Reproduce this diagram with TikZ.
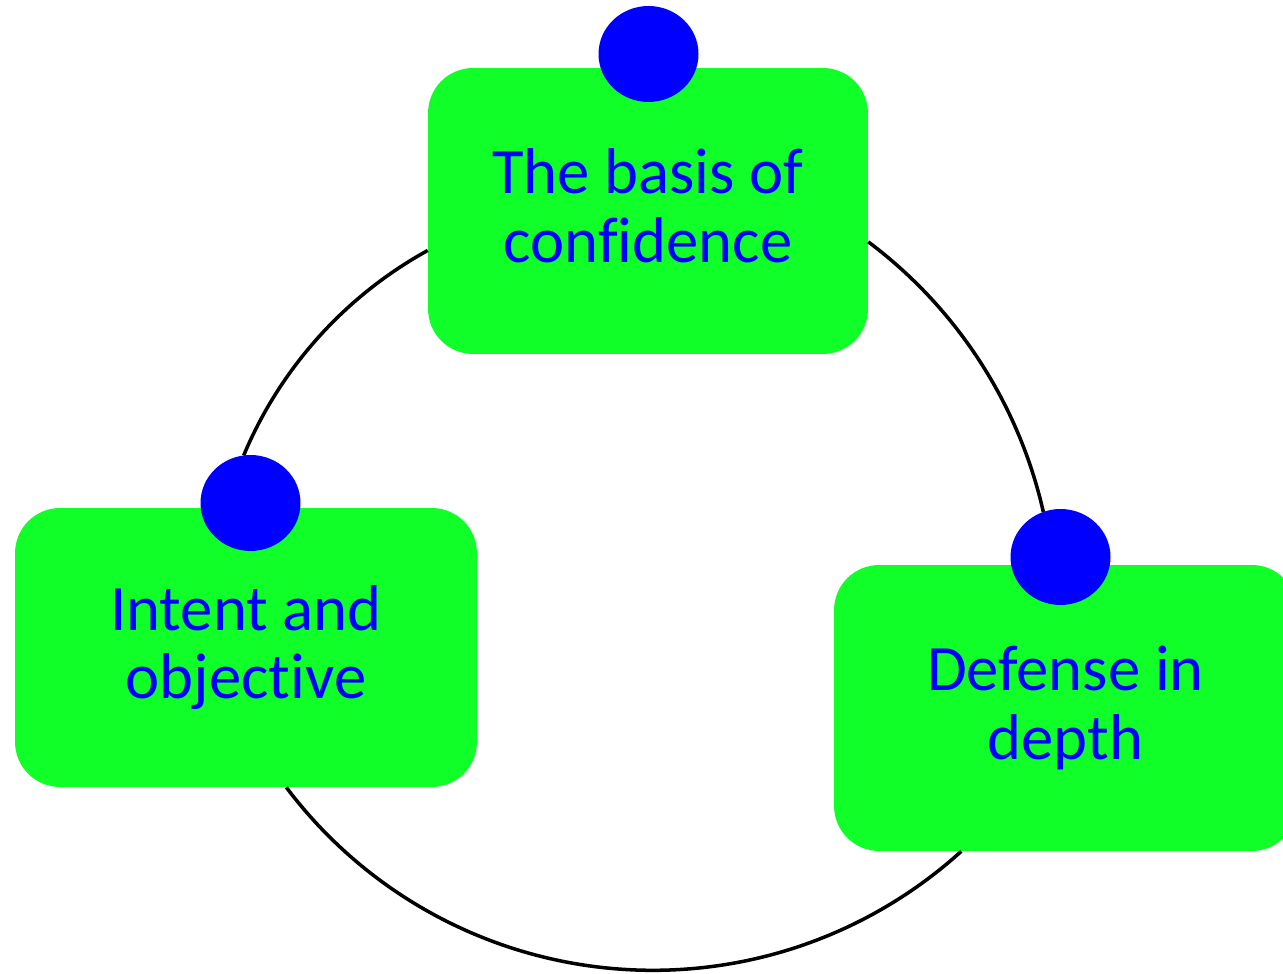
\documentclass[tikz,border=0pt]{standalone}
\usepackage{fontspec}
\setmainfont{Carlito}[Ligatures=CommonOff]
\usetikzlibrary{shapes.geometric}
\definecolor{boxgreen}{RGB}{17,255,41}
\definecolor{dotblue}{RGB}{0,0,255}
\begin{document}
\begin{tikzpicture}[x=0.02cm,y=0.02cm,
  stepbox/.style={fill=boxgreen, rounded corners=0.9cm, inner sep=0pt,
    align=center, text=dotblue, font=\fontsize{36.85}{39.1}\selectfont},
  bluedot/.style={ellipse, fill=dotblue, inner sep=0pt,
    minimum width=2cm, minimum height=1.92cm},
  arcline/.style={line width=2pt, draw=black}]
\clip (0,0) rectangle (1283,973);

% the three stages
\node[stepbox, minimum width=8.8cm, minimum height=5.72cm] (topbox) at (648,762)
  {The basis of\\confidence\vphantom{p}};
\node[stepbox, minimum width=9.24cm, minimum height=5.58cm] (leftbox) at (246,325.5)
  {Intent and\\objective};
\node[stepbox, minimum width=9.26cm, minimum height=5.72cm] (rightbox) at (1065.5,265)
  {Defense in\\depth};

% the cycle arcs between them
\draw[arcline] ([yshift=-0.79cm]topbox.west)
  arc[start angle=118.86, end angle=157.3, radius=8.37cm];
\draw[arcline] ([yshift=-0.618cm]topbox.east)
  arc[start angle=53.15, end angle=12.74, radius=9.32cm];
\draw[arcline] ([xshift=0.806cm]leftbox.south)
  arc[start angle=216.96, end angle=312.21, radius=9.18cm];

% markers on top of each stage
\node[bluedot] (topdot) at (648.5,919) {};
\node[bluedot] (leftdot) at (250.5,470) {};
\node[bluedot] (rightdot) at (1060.5,416) {};
\end{tikzpicture}
\end{document}
